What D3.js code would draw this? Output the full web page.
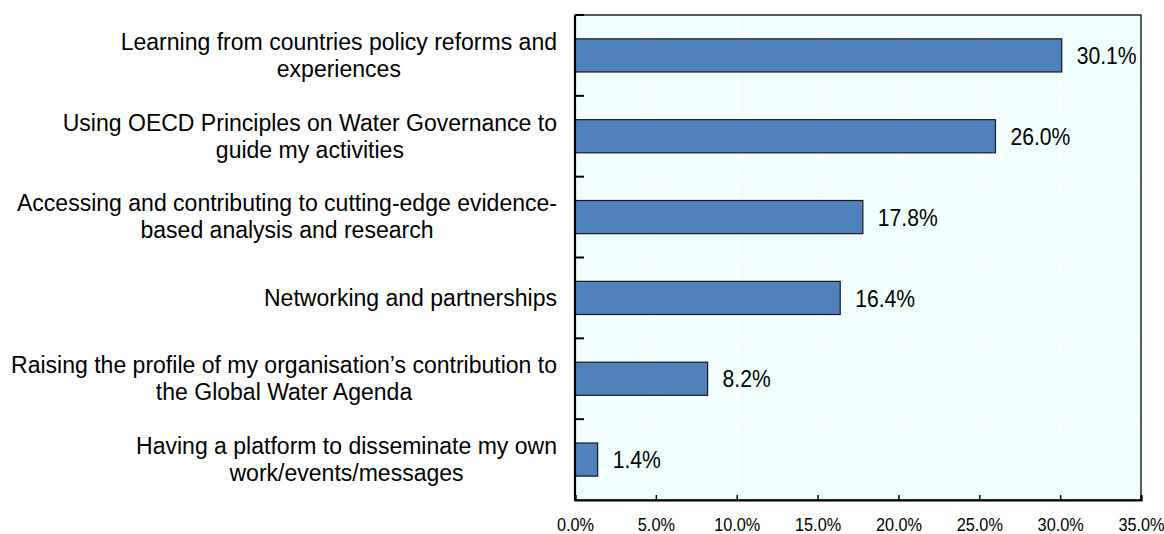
<!DOCTYPE html>
<html>
<head>
<meta charset="utf-8">
<script src="https://cdn.jsdelivr.net/npm/d3@7"></script>
<style>
  html, body { margin: 0; padding: 0; background: #ffffff; }
  svg { display: block; }
  text { font-family: "Liberation Sans", Arial, sans-serif; fill: #000; }
</style>
</head>
<body>
<svg id="chart" width="1164" height="534"></svg>
<script>
// Survey answers, top to bottom
const categories = [
  "Learning from countries policy reforms and experiences",
  "Using OECD Principles on Water Governance to guide my activities",
  "Accessing and contributing to cutting-edge evidence-based analysis and research",
  "Networking and partnerships",
  "Raising the profile of my organisation’s contribution to the Global Water Agenda",
  "Having a platform to disseminate my own work/events/messages"
];
// Wrapped label lines for each category
const labelLines = [
  ["Learning from countries policy reforms and", "experiences"],
  ["Using OECD Principles on Water Governance to", "guide my activities"],
  ["Accessing and contributing to cutting-edge evidence-", "based analysis and research"],
  ["Networking and partnerships"],
  ["Raising the profile of my organisation’s contribution to", "the Global Water Agenda"],
  ["Having a platform to disseminate my own", "work/events/messages"]
];
// Share of respondents (%)
const values = [30.1, 26.0, 17.8, 16.4, 8.2, 1.4];
const xTicks = [0, 5, 10, 15, 20, 25, 30, 35];

const svg = d3.select("#chart");
const plot = { left: 575, right: 1141, top: 15, bottom: 500 };
const labelSqueeze = 0.94; // horizontal compression of the category labels
const valueSqueeze = 0.88; // and of the value / tick labels

const x = d3.scaleLinear().domain([0, 35]).range([plot.left, plot.right]);
const band = d3.scaleBand().domain(categories).range([plot.top, plot.bottom])
  .paddingInner(0.59).paddingOuter(0.295);
const rows = d3.scaleBand().domain(categories).range([plot.top, plot.bottom]).padding(0);

// plot background
svg.append("rect")
  .attr("x", plot.left).attr("y", plot.top)
  .attr("width", plot.right - plot.left).attr("height", plot.bottom - plot.top)
  .attr("fill", "#f2ffff");

// white gridlines
svg.append("g").selectAll("line").data(xTicks.slice(1, -1)).join("line")
  .attr("x1", d => x(d)).attr("x2", d => x(d))
  .attr("y1", plot.top).attr("y2", plot.bottom)
  .attr("stroke", "#ffffff").attr("stroke-width", 1.2);
svg.append("g").selectAll("line").data(categories.slice(1)).join("line")
  .attr("x1", plot.left).attr("x2", plot.right)
  .attr("y1", d => rows(d)).attr("y2", d => rows(d))
  .attr("stroke", "#ffffff").attr("stroke-width", 1.2);

// bars
svg.append("g").selectAll("rect").data(values).join("rect")
  .attr("x", x(0))
  .attr("y", (d, i) => band(categories[i]))
  .attr("width", d => x(d) - x(0))
  .attr("height", band.bandwidth())
  .attr("fill", "#4f81bd")
  .attr("stroke", "#1a1a1a").attr("stroke-width", 1.2);

// value labels
svg.append("g").selectAll("text").data(values).join("text")
  .attr("transform", (d, i) => `translate(${x(d) + 15},${band(categories[i]) + band.bandwidth() / 2}) scale(${valueSqueeze},1)`)
  .attr("dy", "0.36em")
  .style("font-size", "24px")
  .text(d => d.toFixed(1) + "%");

// frame
svg.append("rect")
  .attr("x", plot.left).attr("y", plot.top)
  .attr("width", plot.right - plot.left).attr("height", plot.bottom - plot.top)
  .attr("fill", "none").attr("stroke", "#000").attr("stroke-width", 1.3);

// y axis: inward ticks at row boundaries
svg.append("g")
  .selectAll("line").data(categories).join("line")
  .attr("x1", plot.left).attr("x2", plot.left + 9)
  .attr("y1", d => rows(d)).attr("y2", d => rows(d))
  .attr("stroke", "#000").attr("stroke-width", 2);
svg.append("line")
  .attr("x1", plot.left).attr("x2", plot.left)
  .attr("y1", plot.top).attr("y2", plot.bottom)
  .attr("stroke", "#000").attr("stroke-width", 2.2);

// x axis: inward ticks with percentage labels
const xAxis = d3.axisBottom(x).tickValues(xTicks).tickSize(-5).tickPadding(18)
  .tickFormat(d => d.toFixed(1) + "%");
const gx = svg.append("g").attr("transform", `translate(0,${plot.bottom})`).call(xAxis);
gx.select(".domain").attr("stroke", "#000").attr("stroke-width", 2.2);
gx.selectAll(".tick line").attr("stroke", "#000").attr("stroke-width", 1.5);
gx.selectAll(".tick text")
  .style("font-size", "18.5px").style("font-family", "'Liberation Sans', Arial, sans-serif")
  .attr("fill", "#000")
  .attr("transform", `scale(${valueSqueeze},1)`);

// category labels: lines centred on each other, block right-aligned
const labelRight = 557;
const lineGap = 27;
const labels = svg.append("g");
labelLines.forEach((lines, i) => {
  const cy = rows(categories[i]) + rows.bandwidth() / 2 - 1;
  const g = labels.append("g")
    .attr("transform", `translate(${labelRight},${cy}) scale(${labelSqueeze},1)`)
    .style("font-size", "24.5px");
  const texts = g.selectAll("text").data(lines).join("text")
    .attr("text-anchor", "middle")
    .attr("y", (d, k) => (k - (lines.length - 1) / 2) * lineGap)
    .attr("dy", "0.36em")
    .text(d => d);
  let w = 0;
  texts.each(function () { w = Math.max(w, this.getComputedTextLength()); });
  texts.attr("x", -w / 2);
});
</script>
</body>
</html>
